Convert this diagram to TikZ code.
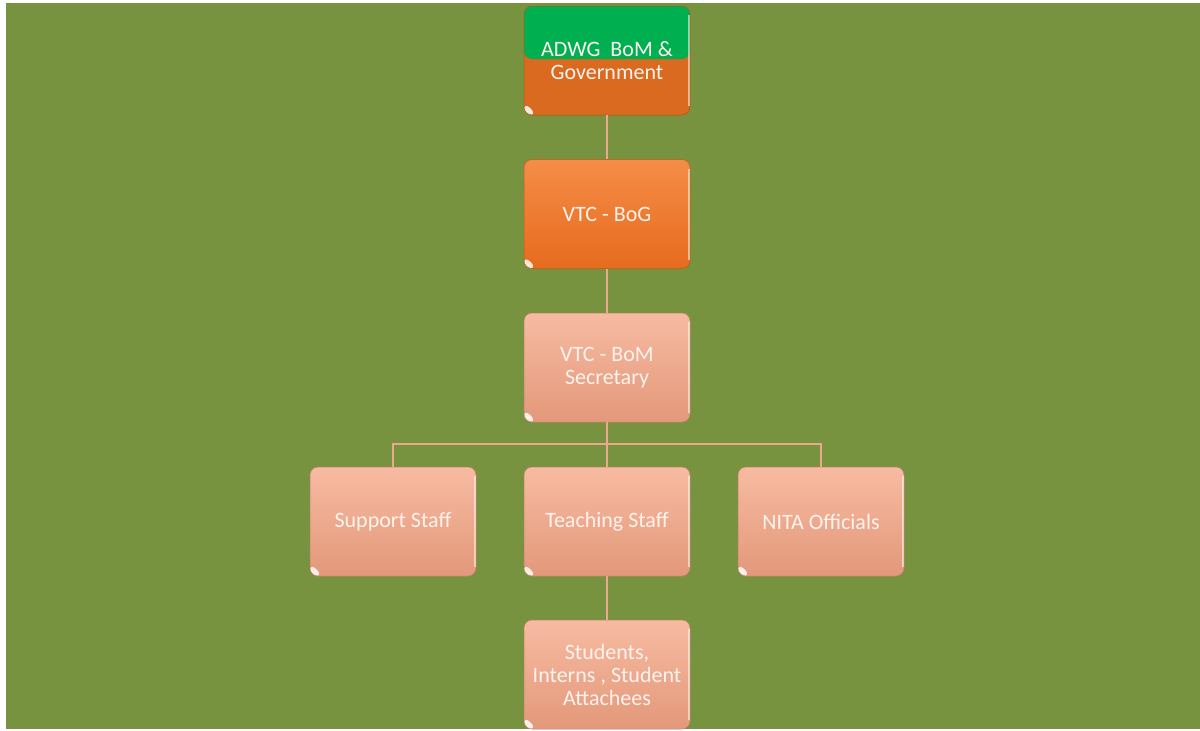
\documentclass[tikz,border=0pt]{standalone}
\usepackage{fontspec}
\setmainfont{Carlito}

\definecolor{fieldgreen}{HTML}{789340}
\definecolor{adwggreen}{HTML}{00B050}
\definecolor{adwgorange}{HTML}{D96A1F}
\definecolor{bogtop}{HTML}{F58D47}
\definecolor{bogbottom}{HTML}{E66B1E}
\definecolor{salmontop}{HTML}{F7BBA2}
\definecolor{salmonbottom}{HTML}{E3987A}
\definecolor{linkline}{HTML}{EBA88C}
\definecolor{labeltext}{HTML}{FDF3EE}

\tikzset{
    glare/.style={path picture={
            \fill[white,opacity=.85] (path picture bounding box.south west)
                -- ++(13pt,0) -- ++(-13pt,13pt) -- cycle;
            \draw[white,opacity=.55,line width=1.5pt]
                ([shift={(-1.2pt,-9pt)}]path picture bounding box.north east)
                -- ([shift={(-1.2pt,9pt)}]path picture bounding box.south east);
        }},
    orgbox/.style={rounded corners=8pt, minimum width=166pt, minimum height=109pt,
        inner sep=0pt, align=center, text=labeltext,
        font=\fontsize{22}{23}\selectfont, glare},
    bogbox/.style={orgbox, top color=bogtop, bottom color=bogbottom, draw=bogbottom!85!black, line width=.5pt},
    staffbox/.style={orgbox, top color=salmontop, bottom color=salmonbottom, draw=salmonbottom!85!black, line width=.5pt},
    link/.style={draw=linkline, line width=2pt}
}

\begin{document}
\begin{tikzpicture}[x=1pt,y=-1pt]
    % background
    \fill[white] (0,0) rectangle (1200,731);
    \fill[fieldgreen] (6,3) rectangle (1200,729);

    % boxes
    \node[orgbox, fill=adwgorange, draw=adwgorange!80!black, line width=.5pt,
        path picture={
            \fill[adwggreen] (path picture bounding box.north west)
                rectangle ([yshift=1.5pt]path picture bounding box.east);
            \fill[white,opacity=.85] (path picture bounding box.south west)
                -- ++(13pt,0) -- ++(-13pt,13pt) -- cycle;
            \draw[white,opacity=.55,line width=1.5pt]
                ([shift={(-1.2pt,-9pt)}]path picture bounding box.north east)
                -- ([shift={(-1.2pt,9pt)}]path picture bounding box.south east);
        }] (adwg) at (607,60.5) {ADWG\ \ BoM \&\\Government};
    \node[bogbox] (bog) at (607,214) {VTC - BoG};
    \node[staffbox] (bom) at (607,367.5) {VTC - BoM\\Secretary};
    \node[staffbox] (support) at (393,521.5) {Support Staff};
    \node[staffbox] (teaching) at (607,521.5) {Teaching Staff};
    \node[staffbox] (nita) at (821,521.5) {NITA Officials};
    \node[staffbox] (students) at (607,674.5) {Students,\\Interns , Student\\Attachees};

    % connectors
    \coordinate (bus) at (bom.south |- 0,444);
    \draw[link] (adwg) -- (bog);
    \draw[link] (bog) -- (bom);
    \draw[link] (bom) -- (teaching);
    \draw[link] (teaching) -- (students);
    \draw[link] (bus) -| (support);
    \draw[link] (bus) -| (nita);
\end{tikzpicture}
\end{document}
